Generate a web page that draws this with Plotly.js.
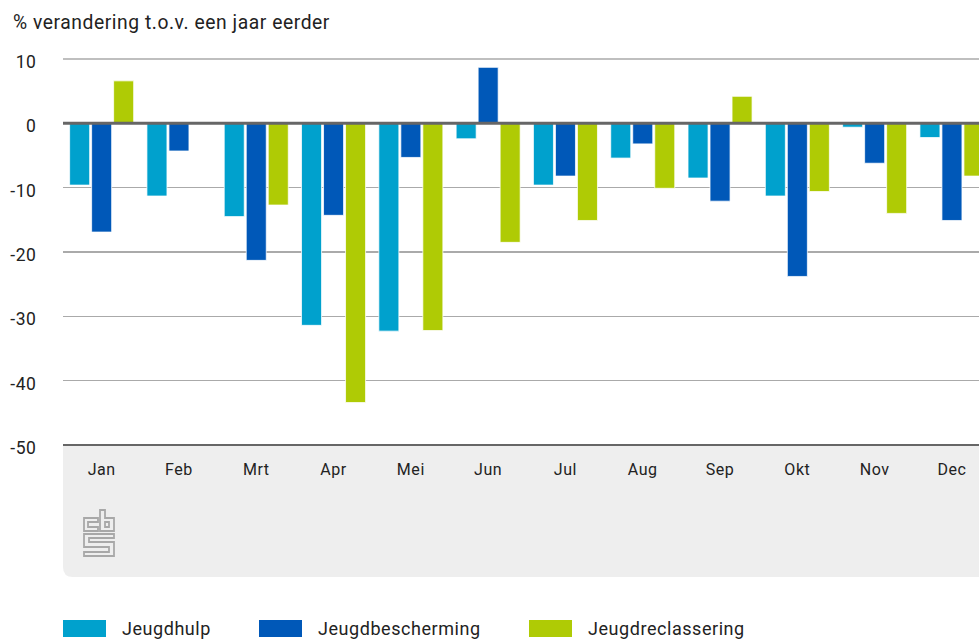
<!DOCTYPE html>
<html><head><meta charset="utf-8">
<script src="https://cdn.plot.ly/plotly-3.0.1.min.js"></script>
<style>html,body{margin:0;padding:0;background:#fff;overflow:hidden}#c{width:979px;height:639px}
text{letter-spacing:0.55px}</style>
</head><body><div id="c"></div>
<script>
var months=['Jan','Feb','Mrt','Apr','Mei','Jun','Jul','Aug','Sep','Okt','Nov','Dec'];
var jeugdhulp=[-9.6,-11.3,-14.5,-31.4,-32.3,-2.4,-9.6,-5.4,-8.5,-11.3,-0.6,-2.2];
var jeugdbescherming=[-16.9,-4.3,-21.3,-14.3,-5.3,8.7,-8.2,-3.2,-12.1,-23.8,-6.2,-15.1];
var jeugdreclassering=[6.6,null,-12.7,-43.4,-32.2,-18.5,-15.1,-10.1,4.2,-10.6,-14.0,-8.2];
var names=['Jeugdhulp','Jeugdbescherming','Jeugdreclassering'];
var colors=['#00a1cd','#0058b8','#afcb05'];
var yTicks=[10,0,-10,-20,-30,-40,-50];
var yTitle='% verandering t.o.v. een jaar eerder';
var fontFam='Roboto, sans-serif';
var W=979,H=639,L=63,T=59,B=445;
function px(x){return (x-L)/(W-L);}
function py(y){return (B-y)/(B-T);}
function bar(i,v){return {type:'bar',name:names[i],x:months,y:v,showlegend:false,hoverinfo:'x+y+name',
  marker:{color:colors[i],line:{color:'rgba(255,255,255,0.75)',width:1}}};}
var data=[bar(0,jeugdhulp),bar(1,jeugdbescherming),bar(2,jeugdreclassering)];
var P=function(x,y){return px(x).toFixed(5)+','+py(y).toFixed(5);};
var shapes=[
 {type:'path',xref:'paper',yref:'paper',layer:'below',line:{width:0},fillcolor:'#eeeeee',
  path:'M'+P(63,445)+' L'+P(979,445)+' L'+P(979,577)+' L'+P(73,577)+' Q'+P(63,577)+' '+P(63,567)+' Z'},
 {type:'line',xref:'paper',yref:'paper',x0:0,x1:1,y0:1,y1:1,layer:'below',line:{color:'#aaaaaa',width:1.5}},
 {type:'line',xref:'paper',yref:'y',x0:0,x1:1,y0:0,y1:0,layer:'above',line:{color:'#666666',width:3}},
 {type:'line',xref:'paper',yref:'paper',x0:0,x1:1,y0:0,y1:0,layer:'above',line:{color:'#666666',width:2}}
];
var legendPos=[[63,120],[259,316],[529,586]];
var annotations=[{xref:'paper',yref:'paper',x:px(11),y:py(22),xanchor:'left',yanchor:'middle',showarrow:false,
  text:yTitle,font:{family:fontFam,size:19.3,color:'#222'}}];
names.forEach(function(n,i){
  var p=legendPos[i];
  shapes.push({type:'rect',xref:'paper',yref:'paper',x0:px(p[0]),x1:px(p[0]+43),y0:py(620),y1:py(637),
    line:{width:0},fillcolor:colors[i]});
  annotations.push({xref:'paper',yref:'paper',x:px(p[1]),y:py(628),xanchor:'left',yanchor:'middle',showarrow:false,
    text:n,font:{family:fontFam,size:18,color:'#222'}});
});
var logo='<svg xmlns="http://www.w3.org/2000/svg" viewBox="0 0 32 48" width="32" height="48"><g fill="none" stroke="#a8a8a8" stroke-width="1.8">'+
 '<path d="M15 9H1V22H15V18H5V13H15Z"/><path d="M17 1H22V9H31V22H17ZM22 13H26V18H22Z"/>'+
 '<path d="M31 25H1V38H26V43H1V47H31V33H6V29H31Z"/></g></svg>';
var layout={width:W,height:H,autosize:false,paper_bgcolor:'#fff',plot_bgcolor:'rgba(0,0,0,0)',
 margin:{l:L,r:0,t:T,b:H-B,pad:0},showlegend:false,
 barmode:'group',bargap:0.146,bargroupgap:0.09,
 xaxis:{type:'category',range:[-0.5,11.35],showgrid:false,zeroline:false,showline:false,
   ticks:'outside',ticklen:10,tickcolor:'rgba(0,0,0,0)',tickfont:{family:fontFam,size:16,color:'#222'},fixedrange:true},
 yaxis:{range:[-50,10],tickmode:'array',tickvals:yTicks,ticktext:yTicks.map(String),showgrid:true,gridcolor:'#aaaaaa',gridwidth:1.5,
   zeroline:false,showline:false,ticks:'outside',ticklen:22,tickcolor:'rgba(0,0,0,0)',ticklabelshift:3,
   tickfont:{family:fontFam,size:17.5,color:'#222'},fixedrange:true},
 shapes:shapes,annotations:annotations,
 images:[{source:'data:image/svg+xml;utf8,'+encodeURIComponent(logo),xref:'paper',yref:'paper',x:px(83),y:py(509),sizex:px(115)-px(83),sizey:py(509)-py(557),xanchor:'left',yanchor:'top',sizing:'stretch',layer:'above'}]
};
Plotly.newPlot('c',data,layout,{displayModeBar:false,staticPlot:true});
</script></body></html>
